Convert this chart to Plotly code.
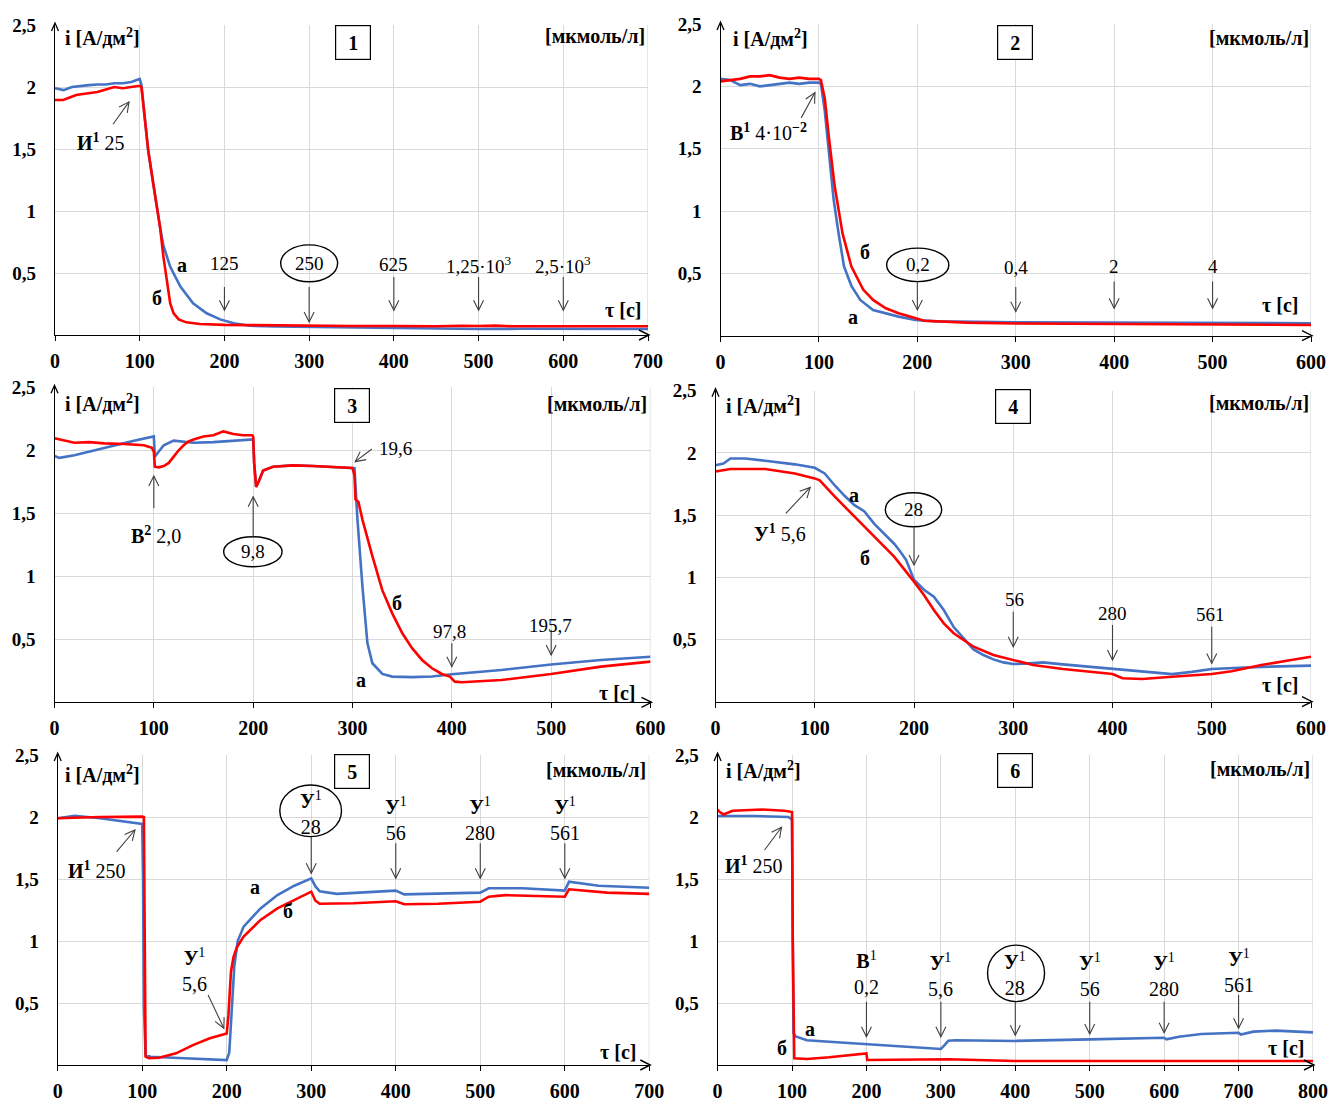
import math
import plotly.graph_objects as go

W, H = 1328, 1102
FONT = "Liberation Serif, Times New Roman, serif"
BLUE = "#4472C4"
RED = "#FF0000"
ARW = "#404040"
GRID = "#d9d9d9"

# ---------------- data ----------------
# Panel 1
p1_t_a = [0, 5, 10, 20, 30, 40, 50, 60, 70, 80, 90, 95, 100, 102, 106, 110, 116, 120, 124, 128, 136, 148, 163, 179, 195, 211, 230, 260, 300, 350, 400, 450, 500, 550, 600, 650, 700]
p1_i_a = [1.99, 1.985, 1.975, 2.0, 2.01, 2.015, 2.02, 2.02, 2.03, 2.03, 2.04, 2.05, 2.065, 2.02, 1.75, 1.49, 1.22, 1.03, 0.87, 0.72, 0.55, 0.39, 0.255, 0.175, 0.126, 0.094, 0.075, 0.068, 0.065, 0.058, 0.055, 0.05, 0.048, 0.05, 0.048, 0.048, 0.048]
p1_t_b = [0, 10, 15, 25, 35, 50, 60, 70, 80, 90, 100, 102, 106, 110, 116, 120, 124, 128, 132, 136, 140, 146, 155, 171, 200, 250, 300, 350, 400, 450, 480, 500, 520, 540, 600, 650, 700]
p1_i_b = [1.895, 1.895, 1.91, 1.935, 1.945, 1.96, 1.98, 2.0, 1.99, 2.0, 2.01, 2.0, 1.75, 1.49, 1.22, 1.03, 0.87, 0.63, 0.42, 0.255, 0.175, 0.126, 0.102, 0.089, 0.082, 0.078, 0.075, 0.073, 0.072, 0.07, 0.075, 0.072, 0.076, 0.07, 0.07, 0.07, 0.07]

# Panel 2
p2_t_a = [0, 10, 20, 30, 40, 50, 60, 70, 80, 90, 100, 102, 106, 110, 115, 120, 125.5, 133, 142, 155, 181, 198, 220, 300, 400, 500, 600]
p2_i_a = [2.06, 2.05, 2.01, 2.02, 2.0, 2.01, 2.02, 2.03, 2.02, 2.03, 2.03, 2.02, 1.8, 1.5, 1.09, 0.82, 0.555, 0.4, 0.287, 0.206, 0.153, 0.126, 0.115, 0.107, 0.105, 0.103, 0.10]
p2_t_b = [0, 10, 20, 30, 40, 50, 60, 70, 80, 90, 100, 102, 106, 110, 116, 124, 133, 145, 155, 168, 181, 207, 250, 300, 400, 500, 600]
p2_i_b = [2.04, 2.05, 2.06, 2.08, 2.08, 2.09, 2.07, 2.06, 2.07, 2.06, 2.06, 2.05, 1.9, 1.6, 1.2, 0.82, 0.555, 0.37, 0.287, 0.22, 0.18, 0.12, 0.105, 0.098, 0.094, 0.09, 0.086]

# Panel 3
p3_t_a = [0, 5, 20, 40, 60, 80, 100, 101, 105, 110, 120, 140, 160, 180, 200, 201, 203, 206, 210, 220, 240, 260, 280, 300, 302, 305, 310, 315, 320, 330, 340, 360, 380, 400, 450, 500, 550, 600]
p3_i_a = [1.955, 1.94, 1.96, 2.0, 2.04, 2.075, 2.11, 1.95, 1.99, 2.04, 2.077, 2.06, 2.065, 2.075, 2.087, 1.9, 1.71, 1.76, 1.84, 1.87, 1.88, 1.875, 1.865, 1.86, 1.857, 1.45, 0.92, 0.47, 0.31, 0.225, 0.204, 0.2, 0.205, 0.222, 0.257, 0.30, 0.336, 0.362]
p3_t_b = [0, 10, 20, 35, 50, 70, 90, 98, 100, 101, 105, 110, 115, 120, 125, 130, 135, 140, 150, 160, 170, 180, 190, 199, 200, 201, 203, 206, 210, 220, 240, 260, 280, 300, 302, 303, 306, 310, 320, 330, 340, 350, 360, 370, 380, 390, 398, 403, 410, 450, 500, 550, 600]
p3_i_b = [2.095, 2.08, 2.06, 2.065, 2.055, 2.05, 2.04, 2.02, 1.99, 1.87, 1.865, 1.875, 1.9, 1.95, 2.0, 2.04, 2.07, 2.085, 2.11, 2.12, 2.15, 2.13, 2.12, 2.12, 2.11, 1.9, 1.71, 1.76, 1.84, 1.87, 1.88, 1.875, 1.865, 1.86, 1.8, 1.61, 1.59, 1.45, 1.16, 0.89, 0.706, 0.55, 0.43, 0.336, 0.27, 0.225, 0.204, 0.164, 0.159, 0.177, 0.225, 0.283, 0.323]

# Panel 4
p4_t_a = [0, 8, 15, 30, 50, 80, 100, 110, 120, 130, 140, 150, 160, 170, 180, 185, 192, 200, 210, 220, 230, 240, 250, 260, 270, 280, 290, 300, 310, 330, 350, 400, 450, 460, 480, 500, 550, 600]
p4_i_a = [1.90, 1.915, 1.955, 1.955, 1.937, 1.908, 1.88, 1.835, 1.74, 1.655, 1.58, 1.53, 1.43, 1.35, 1.27, 1.22, 1.14, 0.98, 0.9, 0.844, 0.737, 0.6, 0.509, 0.42, 0.375, 0.34, 0.316, 0.303, 0.305, 0.316, 0.30, 0.263, 0.228, 0.222, 0.24, 0.263, 0.28, 0.29]
p4_t_b = [0, 15, 50, 80, 100, 105, 120, 140, 160, 180, 200, 210, 220, 230, 240, 250, 260, 280, 300, 320, 350, 380, 400, 410, 430, 460, 500, 520, 550, 580, 600]
p4_i_b = [1.85, 1.87, 1.87, 1.835, 1.795, 1.78, 1.65, 1.49, 1.33, 1.166, 0.965, 0.857, 0.737, 0.63, 0.55, 0.496, 0.442, 0.375, 0.335, 0.295, 0.263, 0.236, 0.222, 0.188, 0.182, 0.20, 0.222, 0.245, 0.295, 0.335, 0.362]

# Panel 5
p5_t_a = [0, 20, 50, 70, 90, 100, 101, 102, 104, 110, 150, 200, 203, 206, 209, 213, 220, 240, 260, 280, 300, 305, 310, 330, 400, 410, 450, 500, 510, 550, 600, 605, 640, 700]
p5_i_a = [1.99, 2.01, 1.99, 1.97, 1.95, 1.944, 1.5, 0.47, 0.08, 0.067, 0.054, 0.04, 0.1, 0.45, 0.8, 1.0, 1.116, 1.263, 1.371, 1.446, 1.505, 1.44, 1.40, 1.38, 1.406, 1.376, 1.38, 1.39, 1.425, 1.425, 1.406, 1.478, 1.446, 1.43]
p5_t_b = [0, 50, 100, 102, 103, 104, 108, 120, 140, 160, 180, 200, 202, 205, 208, 212, 220, 240, 260, 280, 300, 305, 310, 350, 400, 410, 450, 500, 510, 530, 600, 605, 650, 700]
p5_i_b = [1.99, 2.0, 2.003, 2.0, 1.0, 0.067, 0.054, 0.059, 0.094, 0.16, 0.215, 0.255, 0.4, 0.75, 0.87, 0.95, 1.035, 1.17, 1.263, 1.33, 1.398, 1.325, 1.30, 1.305, 1.32, 1.296, 1.30, 1.317, 1.357, 1.37, 1.357, 1.417, 1.39, 1.38]

# Panel 6
p6_t_a = [0, 50, 95, 100, 101, 102, 105, 120, 150, 200, 250, 300, 305, 310, 320, 400, 500, 600, 603, 620, 650, 700, 703, 720, 750, 800]
p6_i_a = [2.008, 2.008, 2.0, 1.98, 1.0, 0.255, 0.23, 0.2, 0.188, 0.167, 0.148, 0.129, 0.16, 0.196, 0.2, 0.194, 0.207, 0.22, 0.207, 0.228, 0.25, 0.26, 0.245, 0.269, 0.277, 0.263]
p6_t_b = [0, 3, 8, 20, 60, 90, 100, 101, 103, 120, 150, 200, 201, 250, 300, 310, 400, 800]
p6_i_b = [2.06, 2.04, 2.02, 2.05, 2.06, 2.05, 2.04, 1.0, 0.054, 0.048, 0.062, 0.094, 0.04, 0.04, 0.04, 0.046, 0.032, 0.032]

curves = [
    (p1_t_a, p1_i_a, p1_t_b, p1_i_b),
    (p2_t_a, p2_i_a, p2_t_b, p2_i_b),
    (p3_t_a, p3_i_a, p3_t_b, p3_i_b),
    (p4_t_a, p4_i_a, p4_t_b, p4_i_b),
    (p5_t_a, p5_i_a, p5_t_b, p5_i_b),
    (p6_t_a, p6_i_a, p6_t_b, p6_i_b),
]
x_max = [700, 600, 600, 600, 700, 800]
y_max = 2.5
y_tick_vals = [0.5, 1, 1.5, 2, 2.5]
y_tick_text = ["0,5", "1", "1,5", "2", "2,5"]

# ---------------- layout geometry (page pixels) ----------------
boxes = [  # x_left, x_right, y_top, y_bottom
    (55, 648, 25, 335),
    (720.5, 1311, 24, 335.7),
    (54.5, 650.5, 387.3, 702.3),
    (715.5, 1311, 390.7, 701.7),
    (57.7, 649.3, 755, 1065),
    (717.6, 1313, 755, 1065),
]


def fx(px):
    return px / W


def fy(py):
    return 1 - py / H


fig = go.Figure()
layout = dict(width=W, height=H, autosize=False, margin=dict(l=0, r=0, t=0, b=0, pad=0, autoexpand=False),
              paper_bgcolor="white", plot_bgcolor="white", showlegend=False, template="none")

for k in range(6):
    sfx = "" if k == 0 else str(k + 1)
    xl, xr, yt, yb = boxes[k]
    layout["xaxis" + sfx] = dict(
        domain=[fx(xl), fx(xr)], range=[0, x_max[k]], anchor="y" + sfx, automargin=False,
        tickmode="linear", tick0=0, dtick=100,
        showgrid=True, gridcolor=GRID, gridwidth=1.3,
        showline=True, linecolor="black", linewidth=1.3,
        ticks="outside", ticklen=5, tickcolor="black", tickwidth=1,
        zeroline=False, ticklabelstandoff=3,
        tickfont=dict(family=FONT, size=20, color="black", weight="bold"),
        fixedrange=True)
    layout["yaxis" + sfx] = dict(
        domain=[fy(yb), fy(yt)], range=[0, y_max], anchor="x" + sfx, automargin=False,
        tickmode="array", tickvals=y_tick_vals, ticktext=y_tick_text,
        showgrid=True, gridcolor=GRID, gridwidth=1.3,
        showline=True, linecolor="black", linewidth=1.3,
        ticks="", zeroline=False, ticklabelstandoff=14,
        tickfont=dict(family=FONT, size=19, color="black", weight="bold"),
        fixedrange=True)
    ta, ia, tb, ib = curves[k]
    fig.add_trace(go.Scatter(x=ta, y=ia, mode="lines", line=dict(color=BLUE, width=2.6),
                             xaxis="x" + sfx, yaxis="y" + sfx, name="а"))
    fig.add_trace(go.Scatter(x=tb, y=ib, mode="lines", line=dict(color=RED, width=2.6),
                             xaxis="x" + sfx, yaxis="y" + sfx, name="б"))

annotations = []
shapes = []


def refs(k):
    s = "" if k == 1 else str(k)
    return "x" + s, "y" + s


def scale(k):
    xl, xr, yt, yb = boxes[k - 1]
    return (xr - xl) / x_max[k - 1], (yb - yt) / y_max


def txt(k, x, y, s, size=19, bold=False, xanchor="center", yanchor="middle"):
    xr, yr = refs(k)
    annotations.append(dict(x=x, y=y, xref=xr, yref=yr, text=(f"<b>{s}</b>" if bold else s),
                            showarrow=False, xanchor=xanchor, yanchor=yanchor,
                            font=dict(family=FONT, size=size, color="black")))


def chevron_path(x1, y1, ux, uy, sx, sy, hl, hw):
    px, py = -uy, ux
    w1 = (x1 + (-hl * ux + hw * px) / sx, y1 + (-hl * uy + hw * py) / sy)
    w2 = (x1 + (-hl * ux - hw * px) / sx, y1 + (-hl * uy - hw * py) / sy)
    return f"M{w1[0]},{w1[1]} L{x1},{y1} L{w2[0]},{w2[1]}"


def arrow(k, x0, y0, x1, y1, hl=10, hw=5, width=1.1, color=ARW):
    xr, yr = refs(k)
    sx, sy = scale(k)
    dx, dy = (x1 - x0) * sx, (y1 - y0) * sy
    L = math.hypot(dx, dy)
    ux, uy = dx / L, dy / L
    shapes.append(dict(type="line", xref=xr, yref=yr, x0=x0, y0=y0, x1=x1, y1=y1,
                       line=dict(color=color, width=width)))
    shapes.append(dict(type="path", xref=xr, yref=yr, path=chevron_path(x1, y1, ux, uy, sx, sy, hl, hw),
                       line=dict(color=color, width=width)))


def frame_marks(k):
    xl, xr, yt, yb = boxes[k - 1]
    xref, yref = refs(k)
    shapes.append(dict(type="line", xref=xref, yref=yref, x0=x_max[k - 1], x1=x_max[k - 1],
                       y0=0, y1=y_max, layer="below", line=dict(color=GRID, width=1.3)))
    p = f"M{fx(xl - 3.5)},{fy(yt + 6)} L{fx(xl)},{fy(yt - 2)} L{fx(xl + 3.5)},{fy(yt + 6)}"
    shapes.append(dict(type="path", xref="paper", yref="paper", path=p,
                       line=dict(color="black", width=1.3)))
    p = f"M{fx(xr - 9)},{fy(yb - 5)} L{fx(xr + 1)},{fy(yb)} L{fx(xr - 9)},{fy(yb + 5)}"
    shapes.append(dict(type="path", xref="paper", yref="paper", path=p,
                       line=dict(color="black", width=1.4)))


def ellipse(k, xc, yc, rx, ry):
    xr, yr = refs(k)
    shapes.append(dict(type="circle", xref=xr, yref=yr, x0=xc - rx, x1=xc + rx,
                       y0=yc - ry, y1=yc + ry, line=dict(color="black", width=1.4)))


def numbox(k, x, y, s):
    xr, yr = refs(k)
    annotations.append(dict(x=x, y=y, xref=xr, yref=yr, text=f"<b>{s}</b>", showarrow=False,
                            width=34, height=33, borderpad=0, bordercolor="black", borderwidth=1.2,
                            bgcolor="white", xanchor="center", yanchor="middle",
                            font=dict(family=FONT, size=20, color="black")))


UNIT_I = "i [А/дм<sup>2</sup>]"
UNIT_C = "[мкмоль/л]"
TAU = "τ [c]"
Y1 = "<b>У</b><sup>1</sup>"

frame = [  # panel, i-label x,y, number x,y, conc-label x,y, tau x,y
    (1, 9, 2.40, 352, 2.36, 699, 2.41, 694, 0.20),
    (2, 10.5, 2.39, 299.5, 2.35, 600, 2.39, 589, 0.247),
    (3, 9, 2.373, 299, 2.355, 598.5, 2.37, 586, 0.076),
    (4, 8.5, 2.385, 299.5, 2.371, 600, 2.40, 589, 0.134),
    (5, 6.6, 2.35, 348, 2.364, 698, 2.38, 686.6, 0.107),
    (6, 8.6, 2.38, 399.5, 2.373, 799, 2.39, 790.6, 0.134),
]
for (k, ix, iy, nx, ny, cx, cy, tx, ty) in frame:
    txt(k, ix, iy, UNIT_I, size=20, bold=True, xanchor="left")
    numbox(k, nx, ny, str(k))
    txt(k, cx, cy, UNIT_C, size=20, bold=True, xanchor="right")
    txt(k, tx, ty, TAU, size=20, bold=True, xanchor="right")
    frame_marks(k)

# Panel 1
txt(1, 54.5, 1.56, "<b>И<sup>1</sup></b> 25", size=20)
arrow(1, 68.5, 1.70, 87.4, 1.88)
txt(1, 149.5, 0.565, "а", size=20, bold=True)
txt(1, 120, 0.296, "б", size=20, bold=True)
txt(1, 200, 0.578, "125")
arrow(1, 200, 0.387, 200, 0.2)
ellipse(1, 300, 0.578, 33.6, 0.149)
txt(1, 300, 0.578, "250")
arrow(1, 300, 0.387, 300, 0.105)
txt(1, 400, 0.565, "625")
arrow(1, 400, 0.468, 400, 0.2)
txt(1, 500, 0.565, "1,25·10<sup>3</sup>")
arrow(1, 500, 0.468, 500, 0.2)
txt(1, 600, 0.565, "2,5·10<sup>3</sup>")
arrow(1, 600, 0.468, 600, 0.2)

# Panel 2
txt(2, 8, 1.63, "<b>В<sup>1</sup></b> 4·10<sup><b>−2</b></sup>", size=20, xanchor="left")
arrow(2, 82, 1.747, 96, 1.95)
txt(2, 147, 0.675, "б", size=20, bold=True)
txt(2, 135, 0.153, "а", size=20, bold=True)
ellipse(2, 200.4, 0.568, 31.6, 0.134)
txt(2, 200.4, 0.568, "0,2")
arrow(2, 200, 0.434, 200, 0.207)
txt(2, 300, 0.544, "0,4")
arrow(2, 300, 0.39, 300, 0.193)
txt(2, 400, 0.555, "2")
arrow(2, 400, 0.434, 400, 0.22)
txt(2, 500, 0.555, "4")
arrow(2, 500, 0.434, 500, 0.22)

# Panel 3
txt(3, 102.4, 1.328, "<b>В<sup>2</sup></b> 2,0", size=20)
arrow(3, 100, 1.54, 100, 1.796)
ellipse(3, 199.7, 1.195, 29.4, 0.119)
txt(3, 199.7, 1.195, "9,8")
arrow(3, 200, 1.306, 200, 1.632)
txt(3, 325, 2.016, "19,6", xanchor="left")
arrow(3, 319.5, 2.01, 302.7, 1.91)
txt(3, 345, 0.786, "б", size=20, bold=True)
txt(3, 309, 0.177, "а", size=20, bold=True)
txt(3, 397.7, 0.56, "97,8")
arrow(3, 400, 0.468, 400, 0.283)
txt(3, 499, 0.613, "195,7")
arrow(3, 500, 0.574, 500, 0.375)

# Panel 4
txt(4, 64.5, 1.354, "<b>У<sup>1</sup></b> 5,6", size=20)
arrow(4, 70.9, 1.514, 95.4, 1.723)
txt(4, 139.7, 1.66, "а", size=20, bold=True)
txt(4, 150.5, 1.153, "б", size=20, bold=True)
ellipse(4, 199.5, 1.543, 28.4, 0.137)
txt(4, 199.5, 1.543, "28")
arrow(4, 200, 1.407, 200, 1.099)
txt(4, 301, 0.818, "56")
arrow(4, 300, 0.723, 300, 0.442)
txt(4, 399.7, 0.71, "280")
arrow(4, 400, 0.617, 400, 0.335)
txt(4, 499, 0.70, "561")
arrow(4, 500, 0.603, 500, 0.308)

# Panel 5
txt(5, 46, 1.573, "<b>И<sup>1</sup></b> 250", size=20)
arrow(5, 69.8, 1.72, 91.4, 1.895)
txt(5, 233.3, 1.438, "а", size=20, bold=True)
txt(5, 272.7, 1.244, "б", size=20, bold=True)
txt(5, 162.3, 0.766, Y1 + "<br>5,6", size=20)
arrow(5, 178, 0.565, 196.6, 0.296)
ellipse(5, 299.3, 2.05, 36.5, 0.208)
txt(5, 299.3, 2.03, Y1 + "<br>28", size=20)
arrow(5, 300, 1.84, 300, 1.546)
for xv, lab in [(400, "56"), (500, "280"), (600, "561")]:
    txt(5, xv, 1.98, Y1 + "<br>" + lab, size=20)
    arrow(5, xv, 1.788, xv, 1.506)

# Panel 6
txt(6, 49.4, 1.613, "<b>И<sup>1</sup></b> 250", size=20)
arrow(6, 63.1, 1.734, 85.9, 1.917)
txt(6, 124.3, 0.288, "а", size=20, bold=True)
txt(6, 85.9, 0.134, "б", size=20, bold=True)
txt(6, 200.5, 0.742, "<b>В</b><sup>1</sup><br>0,2", size=20)
arrow(6, 200, 0.511, 200, 0.228)
txt(6, 300, 0.726, Y1 + "<br>5,6", size=20)
arrow(6, 300, 0.511, 300, 0.228)
ellipse(6, 401, 0.739, 38.3, 0.228)
txt(6, 400, 0.732, Y1 + "<br>28", size=20)
arrow(6, 400, 0.511, 400, 0.24)
txt(6, 500, 0.726, Y1 + "<br>56", size=20)
arrow(6, 500, 0.511, 500, 0.25)
txt(6, 600, 0.726, Y1 + "<br>280", size=20)
arrow(6, 600, 0.511, 600, 0.26)
txt(6, 700, 0.762, Y1 + "<br>561", size=20)
arrow(6, 700, 0.565, 700, 0.296)

layout["annotations"] = annotations
layout["shapes"] = shapes
fig.update_layout(**layout)
fig.write_html("out.html", config={"displayModeBar": False},
               post_script="document.body.style.margin='0';document.body.style.overflow='hidden';")
